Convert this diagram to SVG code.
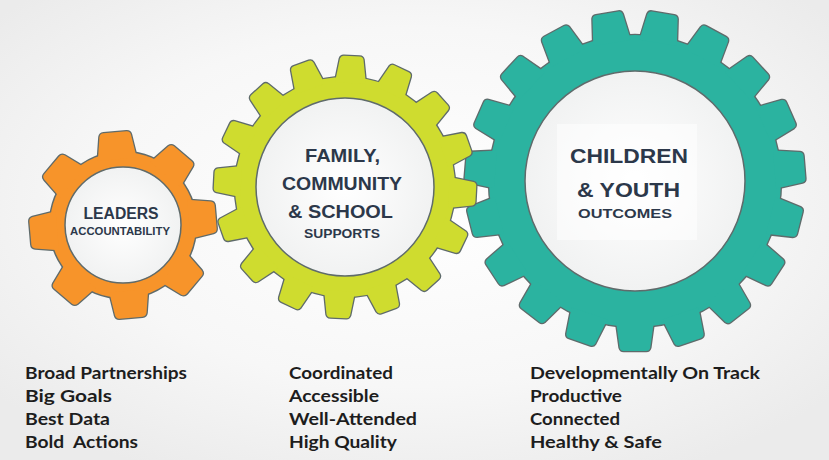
<svg xmlns="http://www.w3.org/2000/svg" width="829" height="460" viewBox="0 0 829 460">
  <defs>
    <radialGradient id="bg" cx="50%" cy="45%" r="65%">
      <stop offset="0" stop-color="#ffffff"/>
      <stop offset="0.6" stop-color="#f7f7f7"/>
      <stop offset="1" stop-color="#ebebeb"/>
    </radialGradient>
    <radialGradient id="hole" cx="50%" cy="50%" r="50%">
      <stop offset="0" stop-color="#ffffff"/>
      <stop offset="1" stop-color="#f1f2f2"/>
    </radialGradient>
    <path id="tooth-o" d="M -19.5,-66 L -15.8,-89.5 Q -15,-93 -11.5,-93 L 11.5,-93 Q 15,-93 15.8,-89.5 L 19.5,-66 Z"/>
    <path id="tooth-y" d="M -15.5,-104 L -11.8,-128 Q -11,-131 -8,-131 L 8,-131 Q 11,-131 11.8,-128 L 15.5,-104 Z"/>
    <path id="tooth-t" d="M -19,-140 L -15.3,-166.8 Q -14.5,-170 -11.3,-170 L 11.3,-170 Q 14.5,-170 15.3,-166.8 L 19,-140 Z"/>
    <g id="gear-o-shape">
      <circle r="73"/>
      <use href="#tooth-o" transform="rotate(-5)"/>
      <use href="#tooth-o" transform="rotate(40)"/>
      <use href="#tooth-o" transform="rotate(85)"/>
      <use href="#tooth-o" transform="rotate(130)"/>
      <use href="#tooth-o" transform="rotate(175)"/>
      <use href="#tooth-o" transform="rotate(220)"/>
      <use href="#tooth-o" transform="rotate(265)"/>
      <use href="#tooth-o" transform="rotate(310)"/>
    </g>
    <g id="gear-y-shape">
      <circle r="110"/>
      <use href="#tooth-y" transform="rotate(3)"/>
      <use href="#tooth-y" transform="rotate(25.5)"/>
      <use href="#tooth-y" transform="rotate(48)"/>
      <use href="#tooth-y" transform="rotate(70.5)"/>
      <use href="#tooth-y" transform="rotate(93)"/>
      <use href="#tooth-y" transform="rotate(115.5)"/>
      <use href="#tooth-y" transform="rotate(138)"/>
      <use href="#tooth-y" transform="rotate(160.5)"/>
      <use href="#tooth-y" transform="rotate(183)"/>
      <use href="#tooth-y" transform="rotate(205.5)"/>
      <use href="#tooth-y" transform="rotate(228)"/>
      <use href="#tooth-y" transform="rotate(250.5)"/>
      <use href="#tooth-y" transform="rotate(273)"/>
      <use href="#tooth-y" transform="rotate(295.5)"/>
      <use href="#tooth-y" transform="rotate(318)"/>
      <use href="#tooth-y" transform="rotate(340.5)"/>
    </g>
    <g id="gear-t-shape">
      <circle r="146"/>
      <use href="#tooth-t" transform="rotate(9.5)"/>
      <use href="#tooth-t" transform="rotate(28.45)"/>
      <use href="#tooth-t" transform="rotate(47.39)"/>
      <use href="#tooth-t" transform="rotate(66.34)"/>
      <use href="#tooth-t" transform="rotate(85.29)"/>
      <use href="#tooth-t" transform="rotate(104.24)"/>
      <use href="#tooth-t" transform="rotate(123.18)"/>
      <use href="#tooth-t" transform="rotate(142.13)"/>
      <use href="#tooth-t" transform="rotate(161.08)"/>
      <use href="#tooth-t" transform="rotate(180.02)"/>
      <use href="#tooth-t" transform="rotate(198.97)"/>
      <use href="#tooth-t" transform="rotate(217.92)"/>
      <use href="#tooth-t" transform="rotate(236.86)"/>
      <use href="#tooth-t" transform="rotate(255.81)"/>
      <use href="#tooth-t" transform="rotate(274.76)"/>
      <use href="#tooth-t" transform="rotate(293.71)"/>
      <use href="#tooth-t" transform="rotate(312.65)"/>
      <use href="#tooth-t" transform="rotate(331.6)"/>
      <use href="#tooth-t" transform="rotate(350.55)"/>
    </g>
  </defs>
  <style>
    .outline { fill: #5f6b6b; stroke: #5f6b6b; stroke-width: 2.6; stroke-linejoin: round; }
    .orange { fill: #f7942a; }
    .yellow { fill: #cfdc2f; }
    .teal { fill: #2bb3a0; }
    .hole { fill: url(#hole); stroke: #5f6b6b; stroke-width: 1.5; }
    .gt { font-family: "Liberation Sans", Arial, sans-serif; font-weight: bold; fill: #2c384a; text-anchor: middle; }
    .list { font-family: Lato, "Liberation Sans", sans-serif; font-weight: bold; font-size: 17px; fill: #1d1d1d; white-space: pre; }
  </style>

  <rect x="0" y="0" width="829" height="460" fill="url(#bg)"/>

  <g id="gear-children-youth">
    <g transform="translate(635,181)">
      <use href="#gear-t-shape" class="outline"/>
      <use href="#gear-t-shape" class="teal"/>
      <circle r="110" class="hole"/>
    </g>
    <rect x="557" y="124" width="140" height="116" fill="#ffffff" opacity="0.5"/>
    <text class="gt" x="629" y="163" font-size="21" textLength="118" lengthAdjust="spacingAndGlyphs">CHILDREN</text>
    <text class="gt" x="628.5" y="197" font-size="21" textLength="103" lengthAdjust="spacingAndGlyphs">&amp; YOUTH</text>
    <text class="gt" x="625" y="218" font-size="13" textLength="94" lengthAdjust="spacingAndGlyphs">OUTCOMES</text>
  </g>

  <g id="gear-family-community-school">
    <g transform="translate(345,187)">
      <use href="#gear-y-shape" class="outline"/>
      <use href="#gear-y-shape" class="yellow"/>
      <circle r="89" class="hole"/>
    </g>
    <text class="gt" x="342.5" y="162" font-size="19" textLength="75" lengthAdjust="spacingAndGlyphs">FAMILY,</text>
    <text class="gt" x="342" y="190" font-size="19" textLength="120" lengthAdjust="spacingAndGlyphs">COMMUNITY</text>
    <text class="gt" x="340.5" y="218" font-size="19" textLength="105" lengthAdjust="spacingAndGlyphs">&amp; SCHOOL</text>
    <text class="gt" x="342" y="238" font-size="12.5" textLength="76" lengthAdjust="spacingAndGlyphs">SUPPORTS</text>
  </g>

  <g id="gear-leaders">
    <g transform="translate(123,225)">
      <use href="#gear-o-shape" class="outline"/>
      <use href="#gear-o-shape" class="orange"/>
      <circle r="58" class="hole"/>
    </g>
    <text class="gt" x="121" y="219" font-size="16" textLength="75" lengthAdjust="spacingAndGlyphs">LEADERS</text>
    <text class="gt" x="120" y="235" font-size="10.5" textLength="100" lengthAdjust="spacingAndGlyphs">ACCOUNTABILITY</text>
  </g>

  <g id="connectors"></g>

  <g id="list-leaders">
    <text class="list" x="25" y="379" textLength="162" lengthAdjust="spacingAndGlyphs">Broad Partnerships</text>
    <text class="list" x="25" y="402" textLength="87" lengthAdjust="spacingAndGlyphs">Big Goals</text>
    <text class="list" x="25" y="425" textLength="85" lengthAdjust="spacingAndGlyphs">Best Data</text>
    <text class="list" x="25" y="448" textLength="113" lengthAdjust="spacingAndGlyphs" xml:space="preserve">Bold  Actions</text>
  </g>
  <g id="list-supports">
    <text class="list" x="289" y="379" textLength="104" lengthAdjust="spacingAndGlyphs">Coordinated</text>
    <text class="list" x="289" y="402" textLength="90" lengthAdjust="spacingAndGlyphs">Accessible</text>
    <text class="list" x="289" y="425" textLength="128" lengthAdjust="spacingAndGlyphs">Well-Attended</text>
    <text class="list" x="289" y="448" textLength="108" lengthAdjust="spacingAndGlyphs">High Quality</text>
  </g>
  <g id="list-outcomes">
    <text class="list" x="530" y="379" textLength="230" lengthAdjust="spacingAndGlyphs">Developmentally On Track</text>
    <text class="list" x="530" y="402" textLength="92" lengthAdjust="spacingAndGlyphs">Productive</text>
    <text class="list" x="530" y="425" textLength="90" lengthAdjust="spacingAndGlyphs">Connected</text>
    <text class="list" x="530" y="448" textLength="132" lengthAdjust="spacingAndGlyphs">Healthy &amp; Safe</text>
  </g>
</svg>
